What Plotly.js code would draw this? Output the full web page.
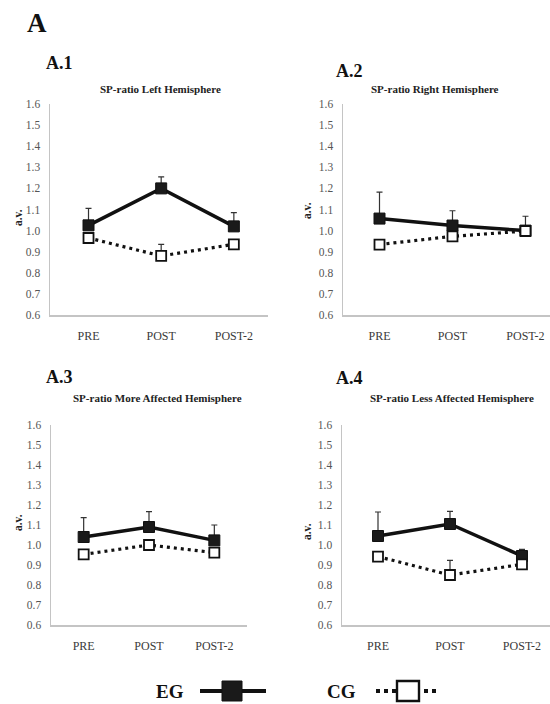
<!DOCTYPE html>
<html>
<head>
<meta charset="utf-8">
<script src="https://cdn.plot.ly/plotly-3.0.1.min.js"></script>
<style>
  html, body { margin: 0; padding: 0; background: #ffffff; }
  #chart { width: 550px; height: 704px; }
</style>
</head>
<body>
<div id="chart"></div>
<script>
// Measurement phases
const phases = ['PRE', 'POST', 'POST-2'];

// Panel titles
const panelTags = ['A.1', 'A.2', 'A.3', 'A.4'];
const panelTitles = [
  'SP-ratio Left Hemisphere',
  'SP-ratio Right Hemisphere',
  'SP-ratio More Affected Hemisphere',
  'SP-ratio Less Affected Hemisphere'
];

// Experimental group (EG): means and upper SD
const egLeft = [1.025, 1.20, 1.02];
const egLeftSd = [0.08, 0.055, 0.065];
const egRight = [1.057, 1.024, 1.0];
const egRightSd = [0.125, 0.07, 0.068];
const egMore = [1.04, 1.09, 1.023];
const egMoreSd = [0.097, 0.077, 0.077];
const egLess = [1.045, 1.105, 0.945];
const egLessSd = [0.12, 0.063, 0.033];

// Control group (CG): means and upper SD (null where no bar is drawn)
const cgLeft = [0.965, 0.88, 0.935];
const cgLeftSd = [null, 0.055, null];
const cgRight = [0.934, 0.973, 0.998];
const cgRightSd = [null, null, null];
const cgMore = [0.953, 1.0, 0.962];
const cgMoreSd = [null, null, null];
const cgLess = [0.942, 0.85, 0.903];
const cgLessSd = [null, 0.073, null];

const yTicks = [0.6, 0.7, 0.8, 0.9, 1.0, 1.1, 1.2, 1.3, 1.4, 1.5, 1.6];

const W = 550, H = 704;
const px = x => x / W;
const py = y => 1 - y / H;

const SERIF = '"Liberation Serif", "Times New Roman", serif';

// Panel geometry in page pixels: [left, right, top, bottom], category range
const panels = [
  { box: [50, 268, 104, 315], xr: [-0.53, 2.47], eg: egLeft, egSd: egLeftSd, cg: cgLeft, cgSd: cgLeftSd,
    tag: [59, 63], title: [160, 89], yt: [18, 218] },
  { box: [343, 550, 104, 315], xr: [-0.5, 2.336], eg: egRight, egSd: egRightSd, cg: cgRight, cgSd: cgRightSd,
    tag: [349, 71], title: [435, 89], yt: [307, 211] },
  { box: [51, 247, 425, 625], xr: [-0.5, 2.5], eg: egMore, egSd: egMoreSd, cg: cgMore, cgSd: cgMoreSd,
    tag: [59, 377], title: [157, 398], yt: [18, 523] },
  { box: [342, 550, 425, 625], xr: [-0.5, 2.389], eg: egLess, egSd: egLessSd, cg: cgLess, cgSd: cgLessSd,
    tag: [349, 378], title: [452, 398], yt: [307, 532] }
];

const traces = [];
const layout = {
  width: W, height: H,
  margin: { l: 0, r: 0, t: 0, b: 0 },
  paper_bgcolor: '#ffffff',
  plot_bgcolor: '#ffffff',
  showlegend: false,
  font: { family: SERIF, color: '#222' },
  annotations: [],
  shapes: []
};

panels.forEach((p, i) => {
  const n = i === 0 ? '' : String(i + 1);
  const xa = 'x' + n, ya = 'y' + n;
  const upOnly = arr => arr.map(v => (v === null ? null : 0));

  traces.push({
    type: 'scatter', mode: 'lines+markers', name: 'EG',
    x: phases, y: p.eg, xaxis: xa, yaxis: ya,
    line: { color: '#111', width: 3.5 },
    marker: { symbol: 'square', size: 11, color: '#1a1a1a', line: { color: '#111', width: 1 } },
    error_y: { type: 'data', symmetric: false, array: p.egSd, arrayminus: upOnly(p.egSd),
               color: '#333', thickness: 1.2, width: 3 },
    cliponaxis: false
  });
  traces.push({
    type: 'scatter', mode: 'lines+markers', name: 'CG',
    x: phases, y: p.cg, xaxis: xa, yaxis: ya,
    line: { color: '#111', width: 3.2, dash: '3px,4px' },
    marker: { symbol: 'square', size: 10, color: '#ffffff', line: { color: '#111', width: 1.8 } },
    error_y: { type: 'data', symmetric: false, array: p.cgSd, arrayminus: upOnly(p.cgSd),
               color: '#333', thickness: 1.2, width: 3 },
    cliponaxis: false
  });

  const [l, r, t, b] = p.box;
  layout['xaxis' + n] = {
    domain: [px(l), px(r)],
    anchor: ya,
    type: 'category',
    range: p.xr,
    showgrid: false, zeroline: false,
    showline: true, linecolor: '#c4c4c4', linewidth: 1.5,
    ticks: 'outside', ticklen: 9, tickcolor: 'rgba(0,0,0,0)',
    tickfont: { family: SERIF, size: 12, color: '#3a3a3a' },
    fixedrange: true
  };
  layout['yaxis' + n] = {
    domain: [py(b), py(t)],
    anchor: xa,
    range: [0.6, 1.6],
    tickvals: yTicks,
    tickformat: '.1f',
    showgrid: false, zeroline: false,
    showline: true, linecolor: '#c4c4c4', linewidth: 1.5,
    ticks: 'outside', ticklen: 6, tickcolor: 'rgba(0,0,0,0)',
    tickfont: { family: SERIF, size: 11.5, color: '#555' },
    fixedrange: true
  };

  // Panel tag (A.1 ...)
  layout.annotations.push({
    xref: 'paper', yref: 'paper', x: px(p.tag[0]), y: py(p.tag[1]),
    xanchor: 'center', yanchor: 'middle', showarrow: false,
    text: '<b>' + panelTags[i] + '</b>',
    font: { family: SERIF, size: 18, color: '#111' }
  });
  // Panel title
  layout.annotations.push({
    xref: 'paper', yref: 'paper', x: px(p.title[0]), y: py(p.title[1]),
    xanchor: 'center', yanchor: 'middle', showarrow: false,
    text: '<b>' + panelTitles[i] + '</b>',
    font: { family: SERIF, size: 11, color: '#222' }
  });
  // Y-axis title
  layout.annotations.push({
    xref: 'paper', yref: 'paper', x: px(p.yt[0]), y: py(p.yt[1]),
    xanchor: 'center', yanchor: 'middle', showarrow: false, textangle: -90,
    text: '<b>a.v.</b>',
    font: { family: SERIF, size: 11.5, color: '#222' }
  });
});

// Figure letter
layout.annotations.push({
  xref: 'paper', yref: 'paper', x: px(37), y: py(23),
  xanchor: 'center', yanchor: 'middle', showarrow: false,
  text: '<b>A</b>', font: { family: SERIF, size: 27, color: '#111' }
});

// Legend keys, text to the left of each symbol
const legY = 691;
layout.annotations.push({
  xref: 'paper', yref: 'paper', x: px(170), y: py(legY),
  xanchor: 'center', yanchor: 'middle', showarrow: false,
  text: '<b>EG</b>', font: { family: SERIF, size: 19, color: '#111' }
});
layout.annotations.push({
  xref: 'paper', yref: 'paper', x: px(341), y: py(legY),
  xanchor: 'center', yanchor: 'middle', showarrow: false,
  text: '<b>CG</b>', font: { family: SERIF, size: 19, color: '#111' }
});
layout.shapes.push(
  { type: 'line', xref: 'paper', yref: 'paper', x0: px(200), x1: px(266), y0: py(legY), y1: py(legY),
    line: { color: '#111', width: 4 } },
  { type: 'rect', xref: 'paper', yref: 'paper', x0: px(222), x1: px(242), y0: py(701), y1: py(681),
    fillcolor: '#1a1a1a', line: { color: '#111', width: 1 } },
  { type: 'line', xref: 'paper', yref: 'paper', x0: px(376), x1: px(440), y0: py(legY), y1: py(legY),
    line: { color: '#111', width: 4, dash: '4px,4px' } },
  { type: 'rect', xref: 'paper', yref: 'paper', x0: px(397), x1: px(419), y0: py(701), y1: py(681),
    fillcolor: '#ffffff', line: { color: '#111', width: 2.4 } }
);

Plotly.newPlot('chart', traces, layout, { displayModeBar: false, staticPlot: true });
</script>
</body>
</html>
